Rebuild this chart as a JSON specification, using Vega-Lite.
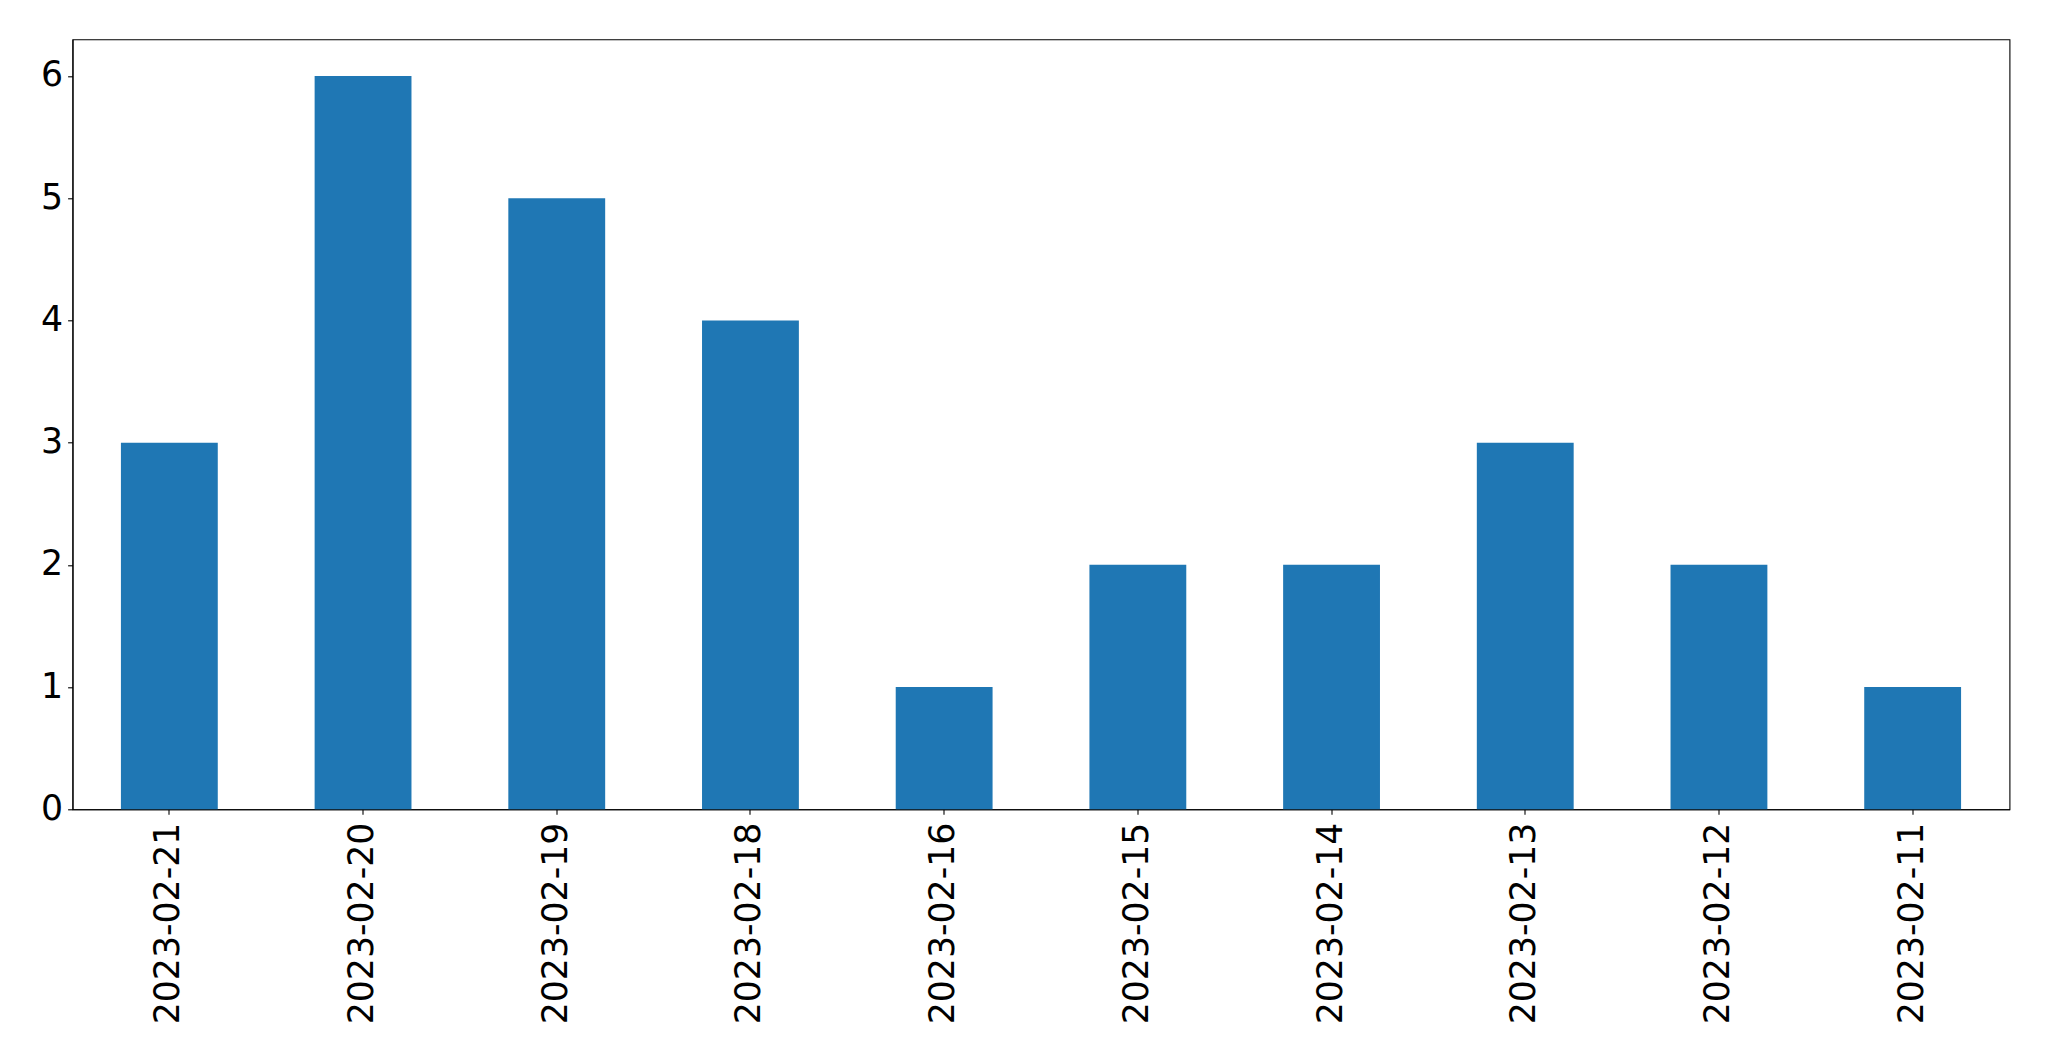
{
  "$schema": "https://vega.github.io/schema/vega-lite/v6.json",
  "width": 1937,
  "height": 770,
  "autosize": {"type": "none"},
  "padding": {"left": 72.5, "top": 39.3, "right": 39.5, "bottom": 251.7},
  "background": "white",
  "config": {
    "view": {"stroke": "black", "strokeWidth": 1.1},
    "axis": {
      "labelFont": "DejaVu Sans",
      "labelFontSize": 34.7,
      "labelColor": "black",
      "labelLimit": 0,
      "domainColor": "black",
      "domainWidth": 1.1,
      "tickColor": "black",
      "tickWidth": 1.1,
      "tickSize": 4.9,
      "grid": false,
      "title": null
    }
  },
  "data": {
    "values": [
      {"date": "2023-02-21", "count": 3},
      {"date": "2023-02-20", "count": 6},
      {"date": "2023-02-19", "count": 5},
      {"date": "2023-02-18", "count": 4},
      {"date": "2023-02-16", "count": 1},
      {"date": "2023-02-15", "count": 2},
      {"date": "2023-02-14", "count": 2},
      {"date": "2023-02-13", "count": 3},
      {"date": "2023-02-12", "count": 2},
      {"date": "2023-02-11", "count": 1}
    ]
  },
  "mark": {"type": "bar", "color": "#1f77b4"},
  "encoding": {
    "x": {
      "field": "date",
      "type": "nominal",
      "sort": null,
      "scale": {"paddingInner": 0.5, "paddingOuter": 0.25},
      "axis": {"labelAngle": -90, "labelPadding": 8, "labelAlign": "right", "labelBaseline": "middle"}
    },
    "y": {
      "field": "count",
      "type": "quantitative",
      "scale": {"domain": [0, 6.3], "nice": false},
      "axis": {"values": [0, 1, 2, 3, 4, 5, 6], "labelPadding": 5}
    }
  }
}
